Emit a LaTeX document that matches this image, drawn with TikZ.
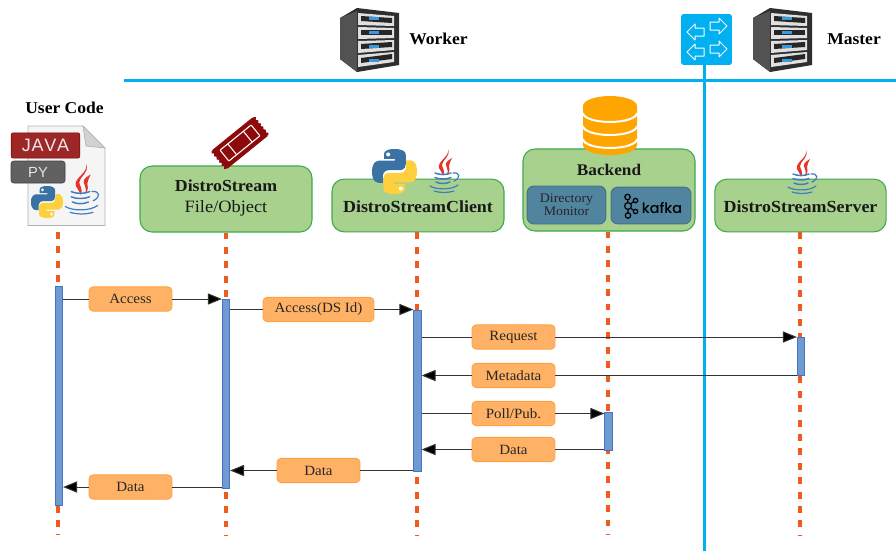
\documentclass[tikz,border=0pt]{standalone}
\usepackage{fontspec}
\usetikzlibrary{arrows.meta}
\setmainfont{Liberation Serif}[FakeStretch=1.06]
\newfontfamily\iconsans{Liberation Sans}
\newfontfamily\kafkafont{Poppins Medium}
\definecolor{netblue}{HTML}{00B0F0}
\definecolor{lifeorange}{HTML}{F05A1E}
\definecolor{greenfill}{HTML}{A9D18E}
\definecolor{greenedge}{HTML}{3EA84F}
\definecolor{barblue}{HTML}{6F9BD1}
\definecolor{baredge}{HTML}{4472C4}
\definecolor{labelfill}{HTML}{FFB266}
\definecolor{labeledge}{HTML}{FFA040}
\definecolor{teal}{HTML}{50849F}
\definecolor{dbor}{HTML}{FFA500}
\definecolor{ticket}{HTML}{8E0A0A}
\definecolor{pyblue}{HTML}{3A72A4}
\definecolor{pyyellow}{HTML}{FFD03E}
\definecolor{javared}{HTML}{E5352B}
\definecolor{javablue}{HTML}{3F7CC0}
\tikzset{
  netline/.style={draw=netblue,line width=2.4pt},
  lifeline/.style={draw=lifeorange,line width=2.3pt,dash pattern=on 5.2pt off 5.6pt},
  compbox/.style={draw=greenedge,fill=greenfill,line width=0.8pt,rounded corners=9pt,inner sep=0pt,align=center,text=black!90},
  innerbox/.style={draw=teal!85!black,fill=teal,line width=0.7pt,rounded corners=5pt,inner sep=0pt,align=center},
  actbar/.style={draw=baredge,fill=barblue,line width=0.6pt,inner sep=0pt,minimum width=5.6pt},
  msglabel/.style={draw=labeledge,fill=labelfill,line width=0.6pt,rounded corners=3pt,inner sep=0pt,minimum width=62.2pt,minimum height=18.2pt,font=\fontsize{10.6}{12}\selectfont,text=black!85},
  msgline/.style={draw=black!80,line width=0.75pt},
  msgarrow/.style={draw=black!80,line width=0.75pt,-{Triangle[length=10.5pt,width=8.4pt,fill=black]}},
  title/.style={inner sep=0pt,font=\fontsize{12.4}{14}\selectfont\bfseries,text=black}
}
% Python logo: size = 100 units scaled
\newcommand{\pylogo}[3]{%
  \begin{scope}[shift={(#1,#2)},scale=#3]
    \fill[pyblue] (50,0) .. controls (25,0) and (27,11) .. (27,11) -- (27,22) -- (51,22) -- (51,26) -- (17,26)
      .. controls (17,26) and (0,24) .. (0,50) .. controls (0,76) and (15,75) .. (15,75) -- (24,75) -- (24,62)
      .. controls (24,62) and (23,47) .. (38,47) -- (62,47) .. controls (62,47) and (75,47) .. (75,34) -- (75,13)
      .. controls (75,13) and (77,0) .. (50,0) -- cycle;
    \fill[white] (36,12) circle[radius=4.5];
    \begin{scope}[shift={(100,100)},xscale=-1,yscale=-1]
      \fill[pyyellow] (50,0) .. controls (25,0) and (27,11) .. (27,11) -- (27,22) -- (51,22) -- (51,26) -- (17,26)
        .. controls (17,26) and (0,24) .. (0,50) .. controls (0,76) and (15,75) .. (15,75) -- (24,75) -- (24,62)
        .. controls (24,62) and (23,47) .. (38,47) -- (62,47) .. controls (62,47) and (75,47) .. (75,34) -- (75,13)
        .. controls (75,13) and (77,0) .. (50,0) -- cycle;
      \fill[white] (36,12) circle[radius=4.5];
    \end{scope}
  \end{scope}}
% Java logo: 33 x 44 units
\newcommand{\javalogo}[3]{%
  \begin{scope}[shift={(#1,#2)},scale=#3]
    \fill[javared] (21,0) .. controls (23,8) and (10,12) .. (12,19) .. controls (13,22) and (16,24) .. (16,27)
      .. controls (19,22) and (15,19) .. (15,16) .. controls (15,11) and (24,8) .. (21,0) -- cycle;
    \fill[javared] (25,9) .. controls (20,12) and (17,14) .. (20,19) .. controls (21,21) and (21,23) .. (20,26)
      .. controls (24,22) and (22,19) .. (22,17) .. controls (22,14) and (24,12) .. (25,9) -- cycle;
    \draw[javablue,line width=1.1pt,line cap=round]
      (8,24) .. controls (12,26) and (20,26) .. (24,24)
      (8,28.5) .. controls (12,30.5) and (20,30.5) .. (24,28.5)
      (9,33) .. controls (13,35) and (19,35) .. (23,33);
    \draw[javablue,line width=0.9pt,line cap=round]
      (26,24) .. controls (33,23) and (34,29) .. (27,32)
      (3,37) .. controls (9,41) and (25,41) .. (31,36)
      (7,42) .. controls (14,44) and (20,44) .. (27,42);
  \end{scope}}
% Rack server: 60 x 64 units
\newcommand{\serverimg}[2]{%
  \begin{scope}[shift={(#1,#2)}]
    \fill[black!82] (0,10) -- (17,0) -- (59,5) -- (59,57) -- (17,64) -- (0,51) -- cycle;
    \fill[black!68] (0,10) -- (17,3) -- (17,64) -- (0,51) -- cycle;
    \foreach \i in {0,1,2,3}{
      \pgfmathsetmacro{\la}{5+14*\i}\pgfmathsetmacro{\lb}{\la+12}
      \pgfmathsetmacro{\ra}{8+12*\i}\pgfmathsetmacro{\rb}{\ra+10}
      \fill[black!12] (18,\la) -- (54,\ra) -- (54,\rb) -- (18,\lb) -- cycle;
      \fill[black!85] (21,\la+3) -- (52,\ra+2) -- (52,\rb-3) -- (21,\lb-4) -- cycle;
      \fill[cyan!70!blue!80] (29,\la+4) rectangle (39,\lb-5);
    }
  \end{scope}}
% Switch arrow: left-pointing outline, 17 x 16 units
\newcommand{\swarrowicon}[3]{%
  \draw[white,line width=0.75pt,line join=round,shift={(#1,#2)},xscale=#3]
    (0,8) -- (8,0) -- (8,4) -- (17,4) -- (17,12) -- (8,12) -- (8,16) -- cycle;}
\begin{document}
\begin{tikzpicture}[x=0.75pt,y=-0.75pt]
\useasboundingbox (0,0) rectangle (896,551);

% network lines
\node[draw=netblue,fill=netblue,rounded corners=1.2pt,inner sep=0pt,minimum width=37.5pt,minimum height=37.5pt] (switch) at (706.5,39.5) {};
\coordinate (netleft) at (124,80.5);
\coordinate (netright) at (896,80.5);
\coordinate (netbottom) at (704.5,551);
\draw[netline] (netleft) -- (netright);
\draw[netline] (switch.south -| netbottom) -- (netbottom);
\swarrowicon{687}{24}{1}
\swarrowicon{727}{18}{-1}
\swarrowicon{687}{44}{1}
\swarrowicon{727}{41}{-1}

% servers and titles
\serverimg{340}{8}
\serverimg{753}{8}
\node[title,anchor=west] (worker) at (409,39) {Worker};
\node[title,anchor=west] (master) at (827,39) {Master};
\node[title] (usercode) at (64.5,108) {User Code};

% component boxes
\node[compbox,minimum width=129pt,minimum height=49.5pt] (dstream) at (226,199) {};
\node[compbox,minimum width=129pt,minimum height=39.5pt] (client) at (418,205.5) {};
\node[compbox,minimum width=129pt,minimum height=61.5pt] (backend) at (609,190) {};
\node[compbox,minimum width=128.5pt,minimum height=39.5pt] (server) at (800.5,205.5) {};

% lifelines
\coordinate (lifeA) at (58,535);
\coordinate (lifeB) at (226,535);
\coordinate (lifeC) at (417,535);
\coordinate (lifeD) at (608,535);
\coordinate (lifeE) at (800,535);
\coordinate (docbase) at (58,232);
\draw[lifeline] (docbase) -- (lifeA);
\draw[lifeline] (dstream.south -| lifeB) -- (lifeB);
\draw[lifeline] (client.south -| lifeC) -- (lifeC);
\draw[lifeline] (backend.south -| lifeD) -- (lifeD);
\draw[lifeline] (server.south -| lifeE) -- (lifeE);

% activation bars
\node[actbar,minimum height=164.2pt] (barA) at (59,395.5) {};
\node[actbar,minimum height=141.7pt] (barB) at (226,393.5) {};
\node[actbar,minimum height=120.7pt] (barC) at (417.5,390.5) {};
\node[actbar,minimum height=28.5pt] (barE) at (801,356) {};
\node[actbar,minimum height=28.5pt] (barD) at (608.5,431) {};

% message labels
\node[msglabel] (m1) at (130.5,299) {Access};
\node[msglabel,minimum width=83.2pt] (m2) at (318.5,309.5) {Access(DS Id)};
\node[msglabel] (m3) at (513.5,337) {Request};
\node[msglabel] (m4) at (513.5,375.5) {Metadata};
\node[msglabel] (m5) at (513.5,413.5) {Poll/Pub.};
\node[msglabel] (m6) at (513.5,449.5) {Data};
\node[msglabel] (m7) at (318.5,470.5) {Data};
\node[msglabel] (m8) at (130.5,487) {Data};

% messages
\draw[msgline] (barA.east |- m1.west) -- (m1.west);
\draw[msgarrow] (m1.east) -- (barB.west |- m1.east);
\draw[msgline] (barB.east |- m2.west) -- (m2.west);
\draw[msgarrow] (m2.east) -- (barC.west |- m2.east);
\draw[msgline] (barC.east |- m3.west) -- (m3.west);
\draw[msgarrow] (m3.east) -- (barE.west |- m3.east);
\draw[msgline] (barE.west |- m4.east) -- (m4.east);
\draw[msgarrow] (m4.west) -- (barC.east |- m4.west);
\draw[msgline] (barC.east |- m5.west) -- (m5.west);
\draw[msgarrow] (m5.east) -- (barD.west |- m5.east);
\draw[msgline] (barD.west |- m6.east) -- (m6.east);
\draw[msgarrow] (m6.west) -- (barC.east |- m6.west);
\draw[msgline] (barC.west |- m7.east) -- (m7.east);
\draw[msgarrow] (m7.west) -- (barB.east |- m7.west);
\draw[msgline] (barB.west |- m8.east) -- (m8.east);
\draw[msgarrow] (m8.west) -- (barA.east |- m8.west);

% user code document
\fill[black!4,draw=black!30,line width=0.6pt] (28,126) -- (83,126) -- (105,148) -- (105,225.5) -- (28,225.5) -- cycle;
\fill[black!18,draw=black!30,line width=0.5pt] (83,126) -- (105,148) -- (86,146) -- cycle;
\node[draw=red!50!black,fill=red!55!black!85,rounded corners=1.5pt,inner sep=0pt,minimum width=51.5pt,minimum height=19pt,text=white!92!black,font=\iconsans\fontsize{13.5}{14}\selectfont] (javatag) at (45.5,145.5) {J\hspace{0.6pt}A\hspace{0.6pt}V\hspace{0.6pt}A};
\node[draw=black!75,fill=black!62,rounded corners=2pt,inner sep=0pt,minimum width=40.5pt,minimum height=16.5pt,text=white!90!black,font=\iconsans\fontsize{11}{12}\selectfont] (pytag) at (38,172) {PY};
\pylogo{31}{186}{0.32}
\javalogo{62}{164}{1.15}

% stream ticket
\begin{scope}[shift={(240,143)},rotate=39]
  \fill[ticket,rounded corners=1pt] (-27,-12) rectangle (27,12);
  \foreach \t in {-10,-6,-2,2,6,10}{
    \fill[ticket] (-27,\t) circle[radius=1.6];
    \fill[ticket] (27,\t) circle[radius=1.6];
  }
  \draw[white,line width=0.8pt,rounded corners=0.5pt] (-20,-7) rectangle (20,7);
  \draw[white,line width=0.8pt] (-10,-7) -- (-10,7) (10,-7) -- (10,7);
\end{scope}

% client icons
\pylogo{372}{149}{0.45}
\javalogo{427}{149}{1}
\javalogo{785}{150}{1}

% database
\begin{scope}[shift={(610,0)}]
  \fill[dbor] (-27,106) arc[start angle=180,end angle=360,x radius=27,y radius=10] -- (27,145)
     arc[start angle=0,end angle=180,x radius=27,y radius=10] -- cycle;
  \draw[white,line width=1.5pt] (-27,113) arc[start angle=180,end angle=0,x radius=27,y radius=9];
  \draw[white,line width=1.5pt] (-27,126) arc[start angle=180,end angle=0,x radius=27,y radius=9];
  \draw[white,line width=1.5pt] (-27,139) arc[start angle=180,end angle=0,x radius=27,y radius=9];
\end{scope}

% box texts
\node[inner sep=0pt,align=center,font=\fontsize{12.6}{16}\selectfont,text=black!90] (dslabel) at (226,198) {\textbf{DistroStream}\\\fontsize{13}{16}\selectfont File/Object};
\node[inner sep=0pt,font=\fontsize{12.7}{14}\selectfont\bfseries,text=black!90] (clientlabel) at (418,207) {DistroStreamClient};
\node[inner sep=0pt,font=\fontsize{12.7}{14}\selectfont\bfseries,text=black!90] (serverlabel) at (800.5,207) {DistroStreamServer};
\node[inner sep=0pt,font=\fontsize{12.2}{14}\selectfont\bfseries,text=black!90] (backendlabel) at (609,170) {Backend};
\node[innerbox,minimum width=59pt,minimum height=28.5pt,font=\fontsize{9.8}{10}\selectfont,text=black!85] (dirmon) at (566.5,205) {Directory\\Monitor};
\node[innerbox,minimum width=60pt,minimum height=27.5pt] (kafka) at (651,205.5) {};

% kafka logo
\begin{scope}[black,line width=0.9pt]
  \draw (627.5,197.5) -- (628,206) -- (628,215) (628,206) -- (635,200.5) (628,206) -- (635,211.5);
  \foreach \kx/\ky/\kr in {627.5/197/2.7,628/206/3.4,628/215.5/2.7,635.5/200.5/2.2,635.5/211.5/2.2}{
    \draw[fill=teal] (\kx,\ky) circle[radius=\kr];
  }
\end{scope}
\node[inner sep=0pt,anchor=west,font=\kafkafont\fontsize{10.8}{12}\selectfont,text=black] (kafkaword) at (641.5,208) {kafka};
\end{tikzpicture}
\end{document}
